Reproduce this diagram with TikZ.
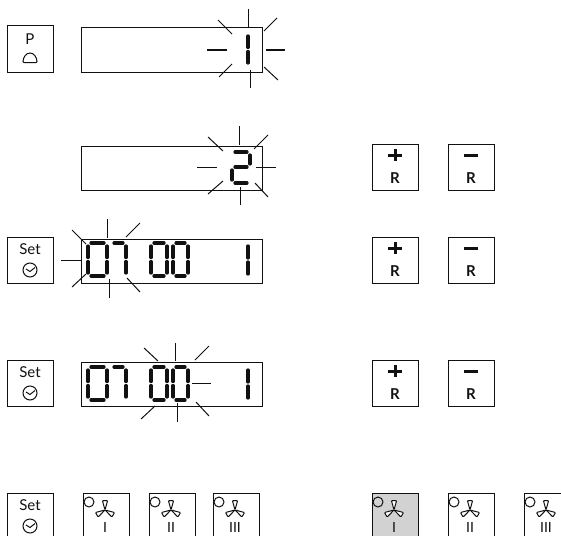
\documentclass[tikz,border=0pt]{standalone}
\usepackage{fontspec}
\setmainfont{Lato}
\definecolor{panelgray}{HTML}{D2D2D2}
\definecolor{inkblack}{HTML}{111111}
% one segment pair per digit: left, right, top, bottom
\newcommand{\zerodigit}[4]{%
  \draw[segline] ({#1+3},#3) -- ({#2-3},#3);
  \draw[segline] ({#1+3},#4) -- ({#2-3},#4);
  \draw[segline] (#1,{#3+3}) -- (#1,{(#3+#4)/2-2});
  \draw[segline] (#1,{(#3+#4)/2+2}) -- (#1,{#4-3});
  \draw[segline] (#2,{#3+3}) -- (#2,{(#3+#4)/2-2});
  \draw[segline] (#2,{(#3+#4)/2+2}) -- (#2,{#4-3});
}
\newcommand{\sevendigit}[4]{%
  \draw[segline] ({#1+1},#3) -- ({#2-3},#3);
  \draw[segline] (#2,{#3+3}) -- (#2,{(#3+#4)/2-2});
  \draw[segline] (#2,{(#3+#4)/2+2}) -- (#2,{#4-3});
}
\newcommand{\onedigit}[3]{%
  \draw[segline] (#1,{#2+3}) -- (#1,{(#2+#3)/2-2});
  \draw[segline] (#1,{(#2+#3)/2+2}) -- (#1,{#3-3});
}
\tikzset{
  fanicon/.pic={
    \foreach \a in {90,210,330}
      \draw[rotate=\a, line width=1pt, line join=round, rounded corners=0.8pt, fill=white]
        (0,0) -- (9.5,-2.6) -- (9.5,2.6) -- cycle;
  },
  clockicon/.pic={
    \draw[line width=1pt] (0,0) circle (7);
    \draw[line width=1pt] (-4,-1) -- (0,1.5) -- (5,-2.5);
  }
}
\begin{document}
\begin{tikzpicture}[
  x=1pt, y=-1pt, color=inkblack,
  keybox/.style={rectangle, draw, line width=1pt, minimum width=46pt, minimum height=46pt, inner sep=0pt},
  lcdbox/.style={rectangle, draw, line width=1pt, minimum width=181pt, minimum height=44pt, inner sep=0pt},
  keytext/.style={font=\fontsize{15}{15}\selectfont, inner sep=0pt},
  rtext/.style={font=\fontsize{15}{15}\selectfont\bfseries, inner sep=0pt},
  numtext/.style={font=\fontsize{14}{14}\selectfont, inner sep=0pt},
  segline/.style={line width=3.2pt, line cap=round},
  ray/.style={line width=1pt},
  signline/.style={line width=3pt}
]
  \clip (0,0) rectangle (561,535);

  % Programme key and first display
  \node[keybox] (pkey) at (30,49) {};
  \node[keytext] (ptext) at (30,39) {P};
  \draw[line width=1pt, rounded corners=0.8pt] (23,62.5) arc (180:360:7 and 9.5) -- cycle;
  \node[lcdbox] (lcdone) at (171.5,50) {};
  \onedigit{248}{33}{66}
  \foreach \ax/\ay/\bx/\by in {248/9/248/28, 250/70/250/88, 207/50/227/50, 266/50/285/50,
                               218/20/232/34, 264/31/277/18, 219/77/232/64, 264/67/278/80}
    \draw[ray] (\ax,\ay) -- (\bx,\by);

  % Second display
  \node[lcdbox] (lcdtwo) at (171.5,168) {};
  \draw[segline] (235,152) -- (247,152);
  \draw[segline] (250,155) -- (250,164);
  \draw[segline] (235,167) -- (247,167);
  \draw[segline] (232,170) -- (232,180);
  \draw[segline] (235,183) -- (247,183);
  \foreach \ax/\ay/\bx/\by in {239/126/239/145, 240/187/240/205, 197/167/217/167, 256/167/276/167,
                               208/137/223/151, 268/135/254/149, 208/194/223/181, 268/197/255/183}
    \draw[ray] (\ax,\ay) -- (\bx,\by);

  % Third display, hours blinking
  \node[keybox] (setone) at (30,260) {};
  \node[keytext] (settextone) at (30,249) {Set};
  \pic at (30,270) {clockicon};
  \node[lcdbox] (lcdthree) at (171.5,261) {};
  \zerodigit{88}{107}{243}{276}
  \sevendigit{113}{126}{243}{276}
  \zerodigit{151}{167}{243}{276}
  \zerodigit{173}{188}{243}{276}
  \onedigit{248}{243}{277}
  \foreach \ax/\ay/\bx/\by in {107.5/219/107.5/238, 109/279/109/298, 61/260/81/260,
                               72/230/86/244, 140/223/126/237, 72/287/86/274, 140/292/127/278}
    \draw[ray] (\ax,\ay) -- (\bx,\by);

  % Fourth display, minutes blinking
  \node[keybox] (settwo) at (30,383) {};
  \node[keytext] (settexttwo) at (30,372) {Set};
  \pic at (30,393) {clockicon};
  \node[lcdbox] (lcdfour) at (171.5,384) {};
  \zerodigit{88}{107}{367}{400}
  \sevendigit{113}{126}{367}{400}
  \zerodigit{151}{167}{367}{400}
  \zerodigit{173}{188}{367}{400}
  \onedigit{248}{367}{401}
  \foreach \ax/\ay/\bx/\by in {175/343/175/361, 177/403/177/422, 192/383/211/383,
                               144/348/158/361, 209/346/195/360, 141/419/155/406, 209/416/196/402}
    \draw[ray] (\ax,\ay) -- (\bx,\by);

  % Plus and minus keys
  \foreach \rowy/\rowname in {167/a, 260/b, 383/c} {
    \node[keybox] (plus\rowname) at (395,\rowy) {};
    \node[rtext] (plusr\rowname) at (395,\rowy+11) {R};
    \draw[signline] (395,\rowy-18) -- (395,\rowy-6);
    \draw[signline] (388,\rowy-12) -- (402,\rowy-12);
    \node[keybox] (minus\rowname) at (471,\rowy) {};
    \node[rtext] (minusr\rowname) at (471,\rowy+11) {R};
    \draw[signline] (464,\rowy-12) -- (478,\rowy-12);
  }

  % Bottom row, cut off by the page edge
  \node[keybox] (setthree) at (30,516) {};
  \node[keytext] (settextthree) at (30,505) {Set};
  \pic at (30,526) {clockicon};
  \foreach \bx/\bfill/\numeral/\bname in {83/white/I/fana, 149/white/II/fanb, 213/white/III/fanc,
                                          372/panelgray/I/fand, 448/white/II/fane, 524/white/III/fanf} {
    \node[keybox, fill=\bfill] (\bname) at (\bx+23,516) {};
    \draw[line width=1pt] (\bx+6,502) circle (5);
    \pic at (\bx+22,510) {fanicon};
    \node[numtext] (\bname text) at (\bx+22,527) {\numeral};
  }
\end{tikzpicture}
\end{document}
